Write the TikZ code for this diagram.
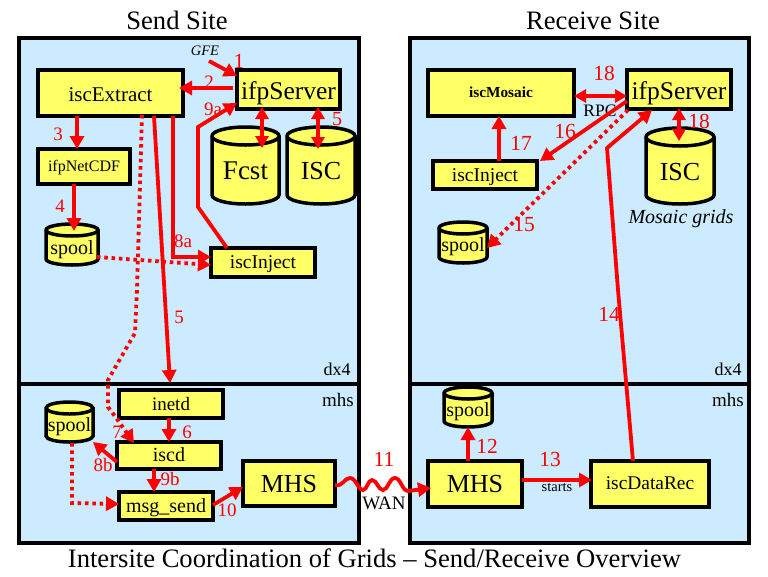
\documentclass[tikz,border=0pt]{standalone}
\usepackage{fontspec}
\setmainfont{Liberation Serif}
\usetikzlibrary{arrows.meta}
\definecolor{panelblue}{HTML}{CCEBFF}
\definecolor{boxyellow}{HTML}{FFFF66}
\newcommand\szf[1]{\fontsize{#1}{#1}\selectfont}
\newcommand\blt[2]{\smash{\raisebox{-#1pt}{#2}}}
% cylinder: name, x1, y1, x2, y2, ry, baseline offset, font size, text
\newcommand\cylnode[9]{%
  \pgfmathsetmacro\cxm{(#2+#4)/2}\pgfmathsetmacro\cym{(#3+#5)/2}%
  \pgfmathsetmacro\crx{(#4-#2)/2}\pgfmathsetmacro\cw{#4-#2}\pgfmathsetmacro\ch{#5-#3}%
  \pgfmathsetmacro\cyt{#3+#6}\pgfmathsetmacro\cyb{#5-#6}%
  \draw[cylline] (#2,\cyt) -- (#2,\cyb) arc[start angle=180,end angle=360,x radius=\crx pt,y radius=#6 pt]
    -- (#4,\cyt) arc[start angle=0,end angle=180,x radius=\crx pt,y radius=#6 pt] -- cycle;
  \draw[cylline,fill=none] (#2,\cyt) arc[start angle=180,end angle=360,x radius=\crx pt,y radius=#6 pt];
  \node[minimum width=\cw pt,minimum height=\ch pt,inner sep=0pt,outer sep=0pt,font=\szf{#8}] (#1) at (\cxm,\cym)
    {\blt{#7}{#9}};%
}
\tikzset{
  panel/.style={draw=black,fill=panelblue,line width=4pt,inner sep=0pt,outer sep=0pt},
  bigbox/.style={draw=black,fill=boxyellow,line width=3.6pt,inner sep=0pt,outer sep=0pt},
  smallbox/.style={draw=black,fill=boxyellow,line width=3.2pt,inner sep=0pt,outer sep=0pt},
  cylline/.style={draw=black,fill=boxyellow,line width=3.5pt},
  lab/.style={red,inner sep=0pt,outer sep=0pt,font=\szf{19}},
  labb/.style={red,inner sep=0pt,outer sep=0pt,font=\szf{21.5}},
  txt/.style={black,inner sep=0pt,outer sep=0pt,anchor=base},
  tip/.style={-{Triangle[length=13pt,width=14pt]}},
  dbl/.style={{Triangle[length=12pt,width=13pt]}-{Triangle[length=12pt,width=13pt]}},
  flow/.style={draw=red,line width=3.8pt,tip},
  flowtwo/.style={draw=red,line width=3.8pt,dbl},
  dots/.style={draw=red,line width=3.8pt,dash pattern=on 3.5pt off 3.8pt,-{Triangle[length=13pt,width=14pt]}},
}
\begin{document}
\begin{tikzpicture}[x=1pt,y=-1pt]
\useasboundingbox[fill=white] (0,0) rectangle (768,576);
% titles
\node[txt,font=\szf{26.6}] (sendtitle) at (177,29.5) {Send Site};
\node[txt,font=\szf{26.6}] (recvtitle) at (593,29.5) {Receive Site};
\node[txt,font=\szf{26.6}] (maintitle) at (374.5,567.7) {Intersite Coordination of Grids -- Send/Receive Overview};
% panels
\node[panel,minimum width=340pt,minimum height=505pt] (sendp) at (188.5,290.5) {};
\node[panel,minimum width=339.5pt,minimum height=505pt] (recvp) at (579.25,290.5) {};
\draw[black,line width=4pt] ([yshift=-93.5pt]sendp.west) -- ([yshift=-93.5pt]sendp.east);
\draw[black,line width=4pt] ([yshift=-93.5pt]recvp.west) -- ([yshift=-93.5pt]recvp.east);
\node[txt,font=\szf{18}] (dxl) at (337,375.7) {dx4};
\node[txt,font=\szf{19}] (mhl) at (338,406.7) {mhs};
\node[txt,font=\szf{18}] (dxr) at (728,375.7) {dx4};
\node[txt,font=\szf{19}] (mhr) at (728,406.7) {mhs};
% send boxes
\node[bigbox,minimum width=145pt,minimum height=46pt,font=\szf{21}] (ext) at (110.5,93) {\blt{8}{iscExtract}};
\node[bigbox,minimum width=103pt,minimum height=39pt,font=\szf{25.5}] (sifp) at (288.5,89.5) {\blt{10}{ifpServer}};
\node[smallbox,minimum width=92pt,minimum height=35pt,font=\szf{16}] (ncdf) at (84,166.5) {\blt{5}{ifpNetCDF}};
\node[smallbox,minimum width=104pt,minimum height=29pt,font=\szf{19.5}] (sinj) at (263,262.5) {\blt{5.5}{iscInject}};
\node[smallbox,minimum width=104pt,minimum height=28pt,font=\szf{19}] (inetd) at (171,404) {\blt{6.7}{inetd}};
\node[smallbox,minimum width=104pt,minimum height=27pt,font=\szf{20}] (iscd) at (169,455.5) {\blt{6}{iscd}};
\node[smallbox,minimum width=94pt,minimum height=28pt,font=\szf{20}] (msend) at (166,506) {\blt{6.7}{msg\_send}};
\node[bigbox,minimum width=92pt,minimum height=45pt,font=\szf{26}] (lmhs) at (289,483.5) {\blt{9}{MHS}};
\cylnode{fcst}{212}{127}{279}{204}{9}{14}{27}{Fcst}
\cylnode{sisc}{287}{127}{355}{204}{9}{14}{26}{ISC}
\cylnode{sspa}{46}{224}{98}{265}{6}{10}{20}{spool}
\cylnode{sspb}{46}{402}{93}{442}{6}{9.7}{20}{spool}
\node[txt,font=\szf{14.5}\itshape] (gfe) at (205,55) {GFE};
\coordinate (gfes) at (209,61);
% receive boxes
\node[bigbox,minimum width=146pt,minimum height=46pt,font=\szf{15.3}\bfseries] (mosaic) at (501,93) {\blt{4.7}{iscMosaic}};
\node[bigbox,minimum width=104pt,minimum height=39pt,font=\szf{25.5}] (rifp) at (679,89.5) {\blt{10}{ifpServer}};
\node[smallbox,minimum width=104pt,minimum height=28pt,font=\szf{19.5}] (rinj) at (485,175) {\blt{6.7}{iscInject}};
\node[bigbox,minimum width=94pt,minimum height=46pt,font=\szf{26}] (rmhs) at (475,484) {\blt{8.3}{MHS}};
\node[bigbox,minimum width=118pt,minimum height=46pt,font=\szf{19.4}] (drec) at (650,484) {\blt{5.3}{iscDataRec}};
\cylnode{risc}{646}{128}{714}{204}{9}{14}{26}{ISC}
\cylnode{rspa}{439}{222}{487}{263}{6}{9.2}{20}{spool}
\cylnode{rspb}{444}{387}{492}{427}{6}{9}{20}{spool}
\node[txt,font=\szf{20}\itshape] (mgrids) at (681,223.3) {Mosaic grids};
\node[txt,font=\szf{17.5}] (rpc) at (600,116.7) {RPC};
\node[txt,font=\szf{19}] (wan) at (384,509.3) {WAN};
\node[txt,font=\szf{14.5}] (starts) at (557,491.7) {starts};
% send connectors
\draw[flow] (gfes) -- ([yshift=-6pt]sifp.north west);
\draw[flow] ([xshift=-4pt,yshift=-18pt]sifp.north west) -- ([xshift=-4pt,yshift=5pt]ext.east);
\coordinate (n9a) at (198,207);
\coordinate (m9a) at (198,127);
\draw[flow] ([xshift=-36pt]sinj.north) -- (n9a) -- (m9a) -- ([yshift=6pt]sifp.south west);
\draw[flowtwo] ([xshift=-26.5pt,yshift=2pt]sifp.south) -- ([xshift=16.5pt,yshift=-21pt]fcst.north);
\draw[flowtwo] ([xshift=29.5pt,yshift=2pt]sifp.south) -- ([xshift=-3pt,yshift=-22pt]sisc.north);
\draw[flow] ([xshift=-33.5pt]ext.south) -- ([xshift=-7pt]ncdf.north);
\draw[flow] ([xshift=-10pt]ncdf.south) -- ([xshift=2pt,yshift=-7pt]sspa.north);
\draw[flow] ([xshift=43.5pt]ext.south) -- ([yshift=7pt,xshift=-1pt]inetd.north);
\coordinate (d1) at (137,290);
\coordinate (d2) at (135,333);
\coordinate (d3) at (108,380);
\coordinate (d4) at (108,407);
\coordinate (d5) at (117,419);
\draw[dots] ([xshift=31.5pt,yshift=1pt]ext.south) -- (d1) -- (d2) -- (d3) -- (d4) -- (d5) -- ([xshift=-35pt,yshift=-1pt]iscd.north);
\coordinate (c8a) at (173,257);
\draw[flow] ([xshift=62.5pt]ext.south) -- (c8a) -- ([yshift=-9pt]sinj.north west);
\draw[dots] ([xshift=-1pt,yshift=-12.5pt]sspa.east) -- ([yshift=-2.5pt]sinj.west);
\draw[flow] (inetd.south -| iscd.north) -- (iscd.north);
\draw[flow] ([yshift=-6.5pt]iscd.west) -- (sspb.south east);
\draw[flow] ([xshift=-15pt]iscd.south) -- ([xshift=-12pt]msend.north);
\coordinate (c9) at (72,503);
\draw[dots] ([xshift=2.5pt,yshift=-1pt]sspb.south) -- (c9) -- ([yshift=2pt]msend.west);
\draw[flow] ([yshift=1pt]msend.east) -- ([yshift=-3.5pt]lmhs.west);
\draw[draw=red,line width=3.8pt,tip] ([yshift=-1.5pt]lmhs.east) .. controls (343,487) and (344,478) .. (350,478)
  .. controls (356,478) and (358,490) .. (363,490) .. controls (367,490) and (368,480) .. (372,480)
  .. controls (377,480) and (378,490) .. (383,490) .. controls (388,490) and (389,478) .. (395,478)
  .. controls (401,478) and (402,491) .. (408,491) -- ([xshift=3pt,yshift=-4pt]rmhs.west);
% receive connectors
\draw[flowtwo] ([yshift=-3pt]mosaic.east) -- ([yshift=-6.5pt]rifp.west);
\draw[flow] ([yshift=-11.5pt]rifp.west) -- ([xshift=3pt,yshift=14pt]rinj.east);
\draw[flow] ([xshift=14pt]rinj.north) -- ([xshift=-2pt]mosaic.south);
\draw[dots] ([xshift=1pt,yshift=-20.5pt]rifp.west) -- ([yshift=-5.5pt]rspa.east);
\draw[flowtwo] ([yshift=1pt]rifp.south) -- ([xshift=-1pt,yshift=-13pt]risc.north);
\draw[flow] (rmhs.north -| rspb.south) -- (rspb.south);
\draw[flow] ([yshift=4pt]rmhs.east) -- ([yshift=4pt,xshift=1pt]drec.west);
\coordinate (c14a) at (618,290);
\coordinate (c14b) at (607,148);
\draw[flow] ([xshift=-17pt]drec.north) -- (c14a) -- (c14b) -- ([xshift=-27pt,yshift=-1pt]rifp.south);
% labels
\node[labb] (l1) at (239,61) {1};
\node[lab] (l2) at (209,82) {2};
\node[lab] (l3) at (58,134) {3};
\node[lab] (l4) at (60,206) {4};
\node[labb,font=\szf{20}] (l5a) at (337,119) {5};
\node[lab] (l5b) at (179,317) {5};
\node[lab] (l6) at (187,432) {6};
\node[lab] (l7) at (117,432) {7};
\node[lab] (l8a) at (183,241) {8a};
\node[lab] (l8b) at (103,465) {8b};
\node[lab] (l9a) at (213,109) {9a};
\node[lab] (l9b) at (170,479) {9b};
\node[lab] (l10) at (227,510) {10};
\node[labb] (l11) at (384,459) {11};
\node[labb] (l12) at (487,446) {12};
\node[labb] (l13) at (550,459) {13};
\node[labb] (l14) at (609,314) {14};
\node[labb] (l15) at (524,225) {15};
\node[labb] (l16) at (565,131) {16};
\node[labb] (l17) at (521,143) {17};
\node[labb] (l18a) at (604,73) {18};
\node[labb] (l18b) at (699,121) {18};
\end{tikzpicture}
\end{document}
